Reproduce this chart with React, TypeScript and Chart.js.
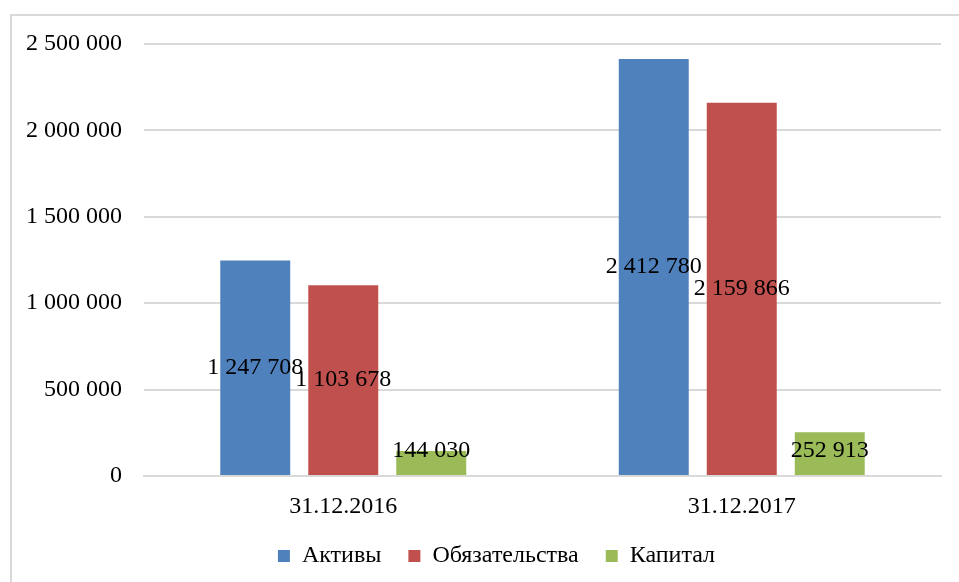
import React, { useEffect, useRef } from "react";
import { Chart, registerables } from "chart.js";

Chart.register(...registerables);

const categories = ["31.12.2016", "31.12.2017"];
const seriesNames = ["Активы", "Обязательства", "Капитал"];
const assets = [1247708, 2412780];
const liabilities = [1103678, 2159866];
const capital = [144030, 252913];
const seriesColors = ["#4F81BD", "#C0504D", "#9BBB59"];
const yMax = 2500000;
const yStep = 500000;

const FONT = "'Liberation Serif', 'Times New Roman', serif";

const fmt = (v: number) =>
  String(Math.round(v)).replace(/\B(?=(\d{3})+(?!\d))/g, " ");

const valueLabels = {
  id: "valueLabels",
  afterDatasetsDraw(chart: any) {
    const ctx = chart.ctx;
    ctx.save();
    ctx.font = `24px ${FONT}`;
    ctx.fillStyle = "#000";
    ctx.textAlign = "center";
    ctx.textBaseline = "middle";
    chart.data.datasets.forEach((ds: any, i: number) => {
      const meta = chart.getDatasetMeta(i);
      meta.data.forEach((el: any, j: number) => {
        const mid = (el.y + el.base) / 2;
        const y = Math.min(mid, el.base - 24);
        ctx.fillText(fmt(ds.data[j]), el.x, y);
      });
    });
    ctx.restore();
  },
};

// shift legend's centering box to the right (legend centred under plot more than canvas)
const legendShift = {
  id: "legendShift",
  afterLayout(chart: any) {
    const lg = chart.legend;
    if (lg) {
      lg.left += 52;
      if (typeof lg.adjustHitBoxes === "function") lg.adjustHitBoxes();
    }
  },
};

export default function App() {
  const ref = useRef<HTMLCanvasElement | null>(null);
  useEffect(() => {
    if (!ref.current) return;
    const chart = new Chart(ref.current, {
      type: "bar",
      data: {
        labels: categories,
        datasets: [assets, liabilities, capital].map((d, i) => ({
          label: seriesNames[i],
          data: d,
          backgroundColor: seriesColors[i],
          borderWidth: 0,
          categoryPercentage: 0.6625,
          barPercentage: 0.795,
        })),
      },
      options: {
        animation: false,
        responsive: true,
        maintainAspectRatio: false,
        layout: { padding: { top: 44, right: 18, left: 0, bottom: 0 } },
        plugins: {
          legend: {
            position: "bottom",
            labels: {
              boxWidth: 12,
              boxHeight: 12,
              padding: 27,
              color: "#000",
              font: { family: FONT, size: 24 },
            },
          },
          tooltip: { enabled: false },
        },
        scales: {
          x: {
            grid: { display: false, drawTicks: false },
            border: { display: true, color: "#d9d9d9", width: 2 },
            ticks: {
              color: "#000",
              padding: 16,
              font: { family: FONT, size: 24 },
            },
            afterFit: (s: any) => {
              s.height = 41;
            },
          },
          y: {
            min: 0,
            max: yMax,
            grid: { color: "#d9d9d9", lineWidth: 2, drawTicks: false },
            border: { display: false },
            ticks: {
              stepSize: yStep,
              color: "#000",
              padding: 22,
              font: { family: FONT, size: 24 },
              callback: (v: any) => fmt(Number(v)),
            },
            afterFit: (s: any) => {
              s.width = 144;
            },
          },
        },
      },
      plugins: [valueLabels, legendShift],
    });
    return () => chart.destroy();
  }, []);
  return (
    <div
      style={{
        position: "absolute",
        left: 0,
        top: 0,
        width: 959,
        height: 582,
        overflow: "hidden",
        background: "#fff",
      }}
    >
      <div
        style={{
          position: "absolute",
          left: 10,
          top: 14,
          width: 980,
          height: 600,
          border: "2px solid #d9d9d9",
          boxSizing: "border-box",
        }}
      />
      <div style={{ position: "absolute", left: 0, top: 0, width: 959, height: 578 }}>
        <canvas ref={ref} />
      </div>
    </div>
  );
}
